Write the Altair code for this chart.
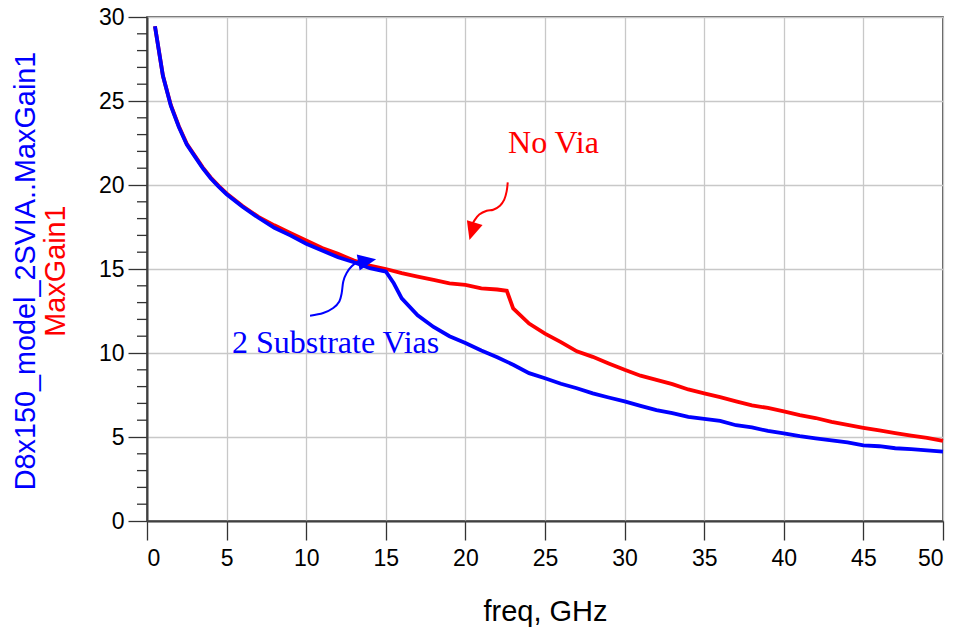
import altair as alt
import pandas as pd

# Maximum available gain (dB) versus frequency (GHz)
freq_no_via = [0.5, 1, 1.5, 2, 2.5, 3, 3.5, 4, 4.5, 5, 6, 7, 8, 9, 10, 11, 12, 13, 14, 15,
               16, 17, 18, 19, 20, 21, 22, 22.6, 23, 24, 25, 26, 27, 28, 29, 30, 31, 32, 33,
               34, 35, 36, 37, 38, 39, 40, 41, 42, 43, 44, 45, 46, 47, 48, 49, 50]
gain_no_via = [29.45, 26.5, 24.75, 23.5, 22.45, 21.75, 21.05, 20.45, 19.95, 19.5, 18.75, 18.1,
               17.6, 17.15, 16.7, 16.25, 15.9, 15.5, 15.2, 15.0, 14.75, 14.55, 14.35, 14.15,
               14.05, 13.85, 13.78, 13.7, 12.65, 11.75, 11.15, 10.65, 10.1, 9.77, 9.38, 9.0,
               8.65, 8.4, 8.15, 7.83, 7.6, 7.37, 7.12, 6.88, 6.73, 6.52, 6.3, 6.13, 5.9, 5.72,
               5.55, 5.4, 5.23, 5.08, 4.95, 4.77]

freq_vias = [0.5, 1, 1.5, 2, 2.5, 3, 3.5, 4, 4.5, 5, 6, 7, 8, 9, 10, 11, 12, 13, 14, 15,
             15.5, 16, 17, 18, 19, 20, 21, 22, 23, 24, 25, 26, 27, 28, 29, 30, 31, 32, 33,
             34, 35, 36, 37, 38, 39, 40, 41, 42, 43, 44, 45, 46, 47, 48, 49, 50]
gain_vias = [29.45, 26.5, 24.7, 23.45, 22.4, 21.7, 21.0, 20.4, 19.9, 19.45, 18.7, 18.05,
             17.45, 17.0, 16.5, 16.1, 15.7, 15.4, 15.05, 14.85, 14.15, 13.25, 12.25, 11.55,
             11.0, 10.6, 10.15, 9.75, 9.3, 8.8, 8.5, 8.17, 7.9, 7.6, 7.35, 7.12, 6.85, 6.6,
             6.42, 6.2, 6.08, 5.96, 5.7, 5.57, 5.36, 5.22, 5.05, 4.92, 4.8, 4.68, 4.5, 4.45,
             4.33, 4.28, 4.2, 4.13]

x_ticks = [0, 5, 10, 15, 20, 25, 30, 35, 40, 45, 50]
y_ticks = [0, 5, 10, 15, 20, 25, 30]
y_minor = [1, 2, 3, 4, 6, 7, 8, 9, 11, 12, 13, 14, 16, 17, 18, 19,
           21, 22, 23, 24, 26, 27, 28, 29]

# Callout curves (freq, gain) and their labels
no_via_arrow_f = [22.66, 22.59, 22.44, 22.17, 21.75, 21.34, 20.87, 20.56, 20.43]
no_via_arrow_g = [20.16, 19.62, 19.13, 18.77, 18.53, 18.47, 18.24, 17.88, 17.64]
vias_arrow_f = [10.24, 11.07, 11.70, 12.08, 12.23, 12.33, 12.54, 12.86, 13.27]
vias_arrow_g = [12.22, 12.38, 12.68, 13.07, 13.57, 14.26, 14.76, 15.16, 15.45]

RED = "#ff0000"
BLUE = "#0000ff"
SANS = "Liberation Sans"
SERIF = "Liberation Serif"

x_scale = alt.Scale(domain=[0, 50], nice=False, zero=False)
y_scale = alt.Scale(domain=[0, 30], nice=False, zero=False)

x_axis = alt.Axis(values=x_ticks, tickSize=19, tickColor="#333333", tickWidth=1.3,
                  labelFont=SANS, labelFontSize=23, labelColor="#000000",
                  labelPadding=7, domainColor="#404040", domainWidth=2,
                  grid=True, gridColor="#c8c8c8", gridWidth=1.3,
                  title="freq, GHz", titleFont=SANS, titleFontSize=29,
                  titleFontWeight="normal", titleColor="#000000",
                  titleBaseline="alphabetic", titleY=99)
y_axis = alt.Axis(values=y_ticks, tickSize=19, tickColor="#333333", tickWidth=1.3,
                  labelFont=SANS, labelFontSize=23, labelColor="#000000",
                  labelPadding=4, domainColor="#404040", domainWidth=2,
                  grid=True, gridColor="#c8c8c8", gridWidth=1.3, title=None)

no_via = pd.DataFrame({"freq": freq_no_via, "gain": gain_no_via})
vias = pd.DataFrame({"freq": freq_vias, "gain": gain_vias})

red_line = alt.Chart(no_via).mark_line(color=RED, strokeWidth=3.8).encode(
    x=alt.X("freq:Q", scale=x_scale, axis=x_axis),
    y=alt.Y("gain:Q", scale=y_scale, axis=y_axis),
)
blue_line = alt.Chart(vias).mark_line(color=BLUE, strokeWidth=3.8).encode(
    x=alt.X("freq:Q", scale=x_scale),
    y=alt.Y("gain:Q", scale=y_scale),
)

minor = alt.Chart(pd.DataFrame({"v": y_minor})).mark_rule(
    color="#333333", strokeWidth=1.3).encode(
    y=alt.Y("v:Q", scale=y_scale), x=alt.value(-10), x2=alt.value(0))


def callout(fs, gs, color):
    df = pd.DataFrame({"freq": fs, "gain": gs, "i": list(range(len(fs)))})
    return alt.Chart(df).mark_line(color=color, strokeWidth=2, interpolate="cardinal").encode(
        x=alt.X("freq:Q", scale=x_scale),
        y=alt.Y("gain:Q", scale=y_scale),
        order="i:Q")


ARROW = "M0,-1L0.9,1L-0.9,1Z"


def head(f, g, angle, color):
    df = pd.DataFrame({"freq": [f], "gain": [g]})
    return alt.Chart(df).mark_point(shape=ARROW, filled=True, size=330, angle=angle,
                                    color=color, opacity=1, strokeWidth=0).encode(
        x=alt.X("freq:Q", scale=x_scale), y=alt.Y("gain:Q", scale=y_scale))


def label(f, g, text, color):
    df = pd.DataFrame({"freq": [f], "gain": [g], "t": [text]})
    return alt.Chart(df).mark_text(font=SERIF, fontSize=32, color=color, align="left",
                                   baseline="alphabetic").encode(
        x=alt.X("freq:Q", scale=x_scale), y=alt.Y("gain:Q", scale=y_scale), text="t:N")


def y_title(text, xpos, color):
    return alt.Chart(pd.DataFrame({"t": [text]})).mark_text(
        font=SANS, fontSize=28.8, color=color, angle=270, align="center",
        baseline="alphabetic").encode(x=alt.value(xpos), y=alt.value(254), text="t:N")


chart = alt.layer(
    red_line,
    blue_line,
    minor,
    callout(no_via_arrow_f, no_via_arrow_g, RED),
    head(20.42, 17.24, 197, RED),
    callout(vias_arrow_f, vias_arrow_g, BLUE),
    head(13.83, 15.48, 80, BLUE),
    label(22.68, 21.93, "No Via", RED),
    label(5.34, 10.01, "2 Substrate Vias", BLUE),
    y_title("D8x150_model_2SVIA..MaxGain1", -112, BLUE),
    y_title("MaxGain1", -82, RED),
).properties(
    width=796, height=504,
    autosize=alt.AutoSizeParams(type="none"),
    padding={"left": 147, "top": 17, "right": 16, "bottom": 107},
    background="white",
).configure_view(stroke="#333333", strokeWidth=1.6)

chart.save("out.html", embed_options={"renderer": "svg", "actions": False})
